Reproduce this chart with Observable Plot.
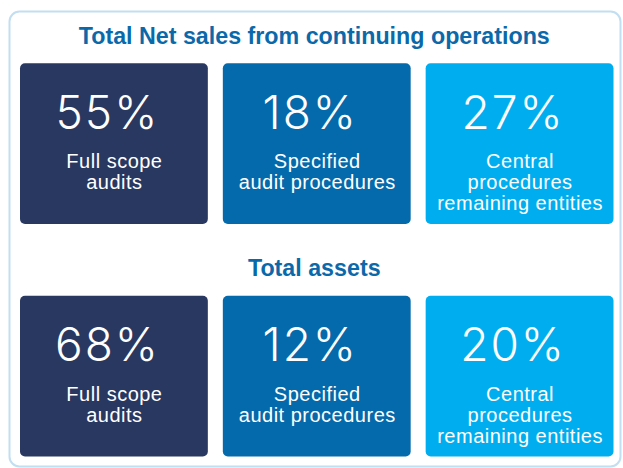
<!DOCTYPE html>
<html>
<head>
<meta charset="utf-8">
<script src="https://cdn.jsdelivr.net/npm/d3@7"></script>
<script src="https://cdn.jsdelivr.net/npm/@observablehq/plot@0.6"></script>
<style>
  html, body { margin: 0; padding: 0; background: #ffffff; }
  g[font-size="20"] text { letter-spacing: 0.5px; }
  g[font-size="46"] text { letter-spacing: 2px; }
</style>
</head>
<body>
<div id="chart"></div>
<script>
const sections = ["Total Net sales from continuing operations", "Total assets"];
const categories = ["Full scope audits", "Specified audit procedures", "Central procedures remaining entities"];
const labels = ["Full scope\naudits", "Specified\naudit procedures", "Central\nprocedures\nremaining entities"];
const netSalesShare = [55, 18, 27];
const totalAssetsShare = [68, 12, 20];
const colors = ["#293861", "#046aab", "#00aeef"];

const seriesBySection = [netSalesShare, totalAssetsShare];
const data = sections.flatMap((s, si) =>
  categories.map((c, ci) => ({section: s, category: c, label: labels[ci], value: seriesBySection[si][ci]}))
);

const chart = Plot.plot({
  width: 623,
  height: 468,
  marginLeft: 9,
  marginTop: 11,
  marginRight: 3,
  marginBottom: 2,
  style: {background: "#ffffff"},
  x: {type: "band", domain: categories, range: [20, 613.5], paddingInner: 0.0739, paddingOuter: 0, round: false, axis: null},
  y: {type: "band", domain: sections, range: [63.3, 456.5], paddingInner: 0.309, paddingOuter: 0, round: false, axis: null},
  color: {domain: categories, range: colors},
  marks: [
    Plot.frame({stroke: "#c2def1", strokeWidth: 2, rx: 10}),
    Plot.cell(data, {x: "category", y: "section", fill: "category", rx: 5, inset: 0}),
    Plot.text(data, {
      x: "category", y: "section", text: d => d.value + "%",
      fill: "white", fontSize: 46, fontWeight: 300, fontFamily: "Inter",
      lineAnchor: "bottom", dy: -15.5, dx: -7
    }),
    Plot.text(data, {
      x: "category", y: "section", text: "label",
      fill: "white", fontSize: 20, fontFamily: "Liberation Sans",
      lineAnchor: "top", lineHeight: 1.05, dy: 9.35
    }),
    Plot.text(sections, {
      x: () => categories[1], y: d => d, text: d => d,
      fill: "#0b69aa", fontSize: 23.25, fontWeight: "bold", fontFamily: "Liberation Sans",
      lineAnchor: "bottom", dy: -100.35, dx: -3
    })
  ]
});
document.getElementById("chart").appendChild(chart);
</script>
</body>
</html>
